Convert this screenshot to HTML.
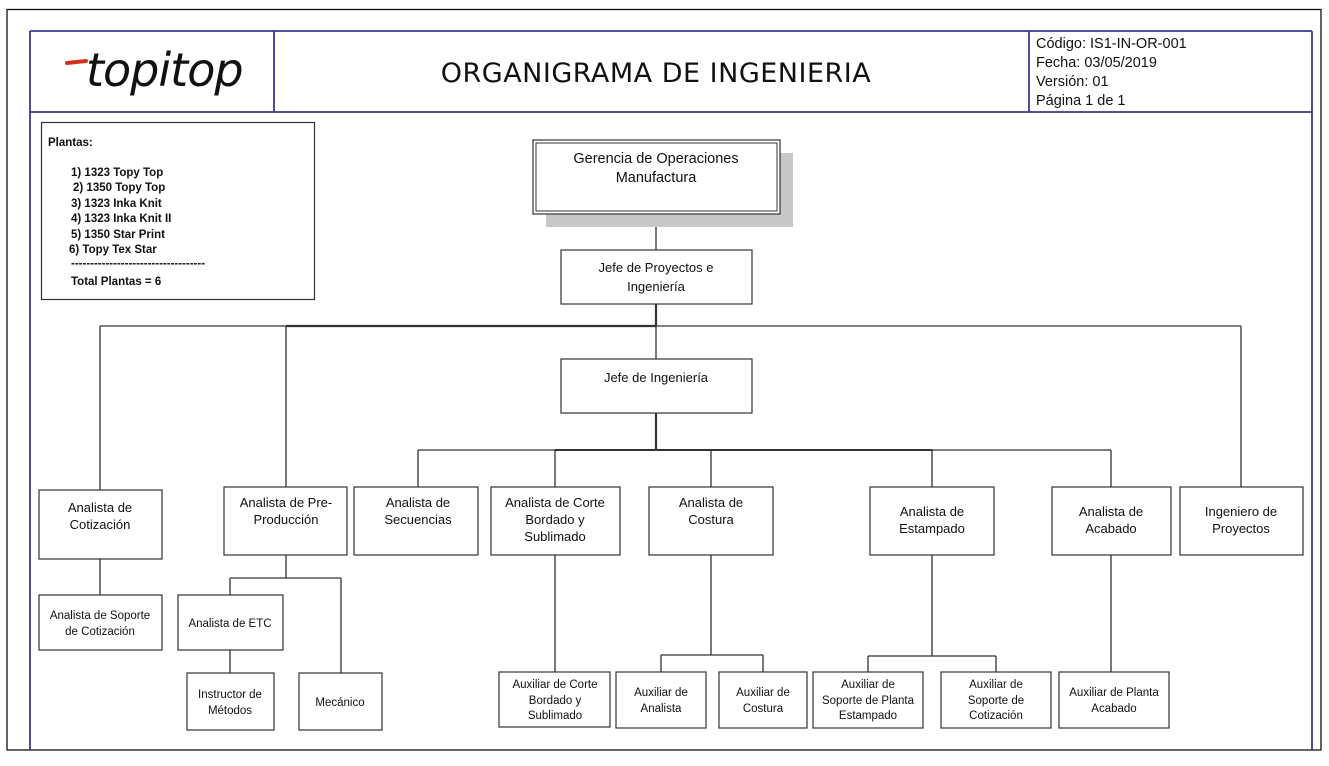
<!DOCTYPE html>
<html><head><meta charset="utf-8"><style>
html,body{margin:0;padding:0;background:#fff;width:1329px;height:766px;overflow:hidden}
svg text{font-family:"Liberation Sans",Arial,sans-serif;fill:#111}
</style></head><body>
<svg width="1329" height="766" viewBox="0 0 1329 766" xmlns="http://www.w3.org/2000/svg">
<!-- outer black frame -->
<rect x="7" y="9.5" width="1314" height="740.5" fill="none" stroke="#111" stroke-width="1.3"/>
<!-- blue frame -->
<g stroke="#3a3a8c" stroke-width="1.8" fill="none">
<line x1="30" y1="31" x2="1312" y2="31"/>
<line x1="30" y1="31" x2="30" y2="750"/>
<line x1="1312" y1="31" x2="1312" y2="750"/>
<line x1="30" y1="112" x2="1312" y2="112"/>
<line x1="274" y1="31" x2="274" y2="112"/>
<line x1="1029" y1="31" x2="1029" y2="112"/>
</g>
<!-- logo -->
<line x1="67" y1="63" x2="86" y2="61" stroke="#d0321e" stroke-width="4" stroke-linecap="round"/>
<text x="86" y="86" font-size="46" font-style="italic" style="font-family:'DejaVu Sans','Liberation Sans',sans-serif" letter-spacing="-1">topitop</text>
<text x="656" y="82" font-size="27" text-anchor="middle" style="font-family:'DejaVu Sans','Liberation Sans',sans-serif;letter-spacing:0.5px">ORGANIGRAMA DE INGENIERIA</text>
<g font-size="14.5">
<text x="1036" y="48">Código: IS1-IN-OR-001</text>
<text x="1036" y="67">Fecha: 03/05/2019</text>
<text x="1036" y="86">Versión: 01</text>
<text x="1036" y="105">Página 1 de 1</text>
</g>
<!-- plantas box -->
<rect x="41.5" y="122.5" width="273" height="177" fill="none" stroke="#333" stroke-width="1.2"/>
<g font-size="11.5" font-weight="bold">
<text x="48" y="146">Plantas:</text>
<text x="71" y="176">1) 1323 Topy Top</text>
<text x="73" y="191">2) 1350 Topy Top</text>
<text x="71" y="207">3) 1323 Inka Knit</text>
<text x="71" y="222">4) 1323 Inka Knit II</text>
<text x="71" y="238">5) 1350 Star Print</text>
<text x="69" y="253">6) Topy Tex Star</text>
<text x="71" y="267">-----------------------------------</text>
<text x="71" y="285">Total Plantas = 6</text>
</g>
<!-- connectors -->
<g stroke="#333" stroke-width="1.3" fill="none">
<line x1="656" y1="214" x2="656" y2="250"/>
<line x1="656" y1="304" x2="656" y2="359"/>
<line x1="100" y1="326" x2="1241" y2="326"/>
<line x1="286" y1="326" x2="656" y2="326" stroke-width="2.2"/>
<line x1="656" y1="304" x2="656" y2="326" stroke-width="2.2"/>
<line x1="100" y1="326" x2="100" y2="490"/>
<line x1="286" y1="326" x2="286" y2="487"/>
<line x1="1241" y1="326" x2="1241" y2="487"/>
<line x1="656" y1="413" x2="656" y2="450" stroke-width="2.2"/>
<line x1="418" y1="450" x2="1111" y2="450"/>
<line x1="555" y1="450" x2="932" y2="450" stroke-width="2"/>
<line x1="418" y1="450" x2="418" y2="487"/>
<line x1="555" y1="450" x2="555" y2="487"/>
<line x1="711" y1="450" x2="711" y2="487"/>
<line x1="932" y1="450" x2="932" y2="487"/>
<line x1="1111" y1="450" x2="1111" y2="487"/>
<line x1="100" y1="559" x2="100" y2="595"/>
<line x1="286" y1="555" x2="286" y2="578"/>
<line x1="230" y1="578" x2="341" y2="578"/>
<line x1="230" y1="578" x2="230" y2="595"/>
<line x1="341" y1="578" x2="341" y2="673"/>
<line x1="230" y1="650" x2="230" y2="673"/>
<line x1="555" y1="555" x2="555" y2="672"/>
<line x1="711" y1="555" x2="711" y2="655"/>
<line x1="661" y1="655" x2="763" y2="655"/>
<line x1="661" y1="655" x2="661" y2="672"/>
<line x1="763" y1="655" x2="763" y2="672"/>
<line x1="932" y1="555" x2="932" y2="656"/>
<line x1="868" y1="656" x2="996" y2="656"/>
<line x1="868" y1="656" x2="868" y2="672"/>
<line x1="996" y1="656" x2="996" y2="672"/>
<line x1="1111" y1="555" x2="1111" y2="672"/>
</g>
<!-- gerencia -->
<rect x="546" y="153" width="247" height="74" fill="#c8c8c8"/>
<rect x="533" y="140" width="247" height="74" fill="#fff" stroke="#333" stroke-width="1.2"/>
<rect x="536" y="143" width="241" height="68" fill="none" stroke="#333" stroke-width="1"/>
<g font-size="14.5" text-anchor="middle">
<text x="656" y="163">Gerencia de Operaciones</text>
<text x="656" y="182">Manufactura</text>
</g>
<!-- boxes -->
<g fill="#fff" stroke="#333" stroke-width="1.2">
<rect x="561" y="250" width="191" height="54"/>
<rect x="561" y="359" width="191" height="54"/>
<rect x="39" y="490" width="123" height="69"/>
<rect x="224" y="487" width="123" height="68"/>
<rect x="354" y="487" width="124" height="68"/>
<rect x="491" y="487" width="129" height="68"/>
<rect x="649" y="487" width="124" height="68"/>
<rect x="870" y="487" width="124" height="68"/>
<rect x="1052" y="487" width="119" height="68"/>
<rect x="1180" y="487" width="123" height="68"/>
<rect x="39" y="595" width="123" height="55"/>
<rect x="178" y="595" width="105" height="55"/>
<rect x="187" y="673" width="87" height="57"/>
<rect x="299" y="673" width="83" height="57"/>
<rect x="499" y="672" width="111" height="55"/>
<rect x="616" y="672" width="90" height="56"/>
<rect x="719" y="672" width="88" height="56"/>
<rect x="813" y="672" width="110" height="56"/>
<rect x="941" y="672" width="110" height="56"/>
<rect x="1059" y="672" width="110" height="56"/>
</g>
<g font-size="13" text-anchor="middle">
<text x="656" y="272">Jefe de Proyectos e</text>
<text x="656" y="291">Ingeniería</text>
<text x="656" y="382">Jefe de Ingeniería</text>
<text x="100" y="512">Analista de</text>
<text x="100" y="529">Cotización</text>
<text x="286" y="507">Analista de Pre-</text>
<text x="286" y="524">Producción</text>
<text x="418" y="507">Analista de</text>
<text x="418" y="524">Secuencias</text>
<text x="555" y="507">Analista de Corte</text>
<text x="555" y="524">Bordado y</text>
<text x="555" y="541">Sublimado</text>
<text x="711" y="507">Analista de</text>
<text x="711" y="524">Costura</text>
<text x="932" y="516">Analista de</text>
<text x="932" y="533">Estampado</text>
<text x="1111" y="516">Analista de</text>
<text x="1111" y="533">Acabado</text>
<text x="1241" y="516">Ingeniero de</text>
<text x="1241" y="533">Proyectos</text>
</g>
<g font-size="11.5" text-anchor="middle">
<text x="100" y="619">Analista de Soporte</text>
<text x="100" y="635">de Cotización</text>
<text x="230" y="627">Analista de ETC</text>
<text x="230" y="698">Instructor de</text>
<text x="230" y="714">Métodos</text>
<text x="340" y="706">Mecánico</text>
<text x="555" y="688">Auxiliar de Corte</text>
<text x="555" y="704">Bordado y</text>
<text x="555" y="719">Sublimado</text>
<text x="661" y="696">Auxiliar de</text>
<text x="661" y="712">Analista</text>
<text x="763" y="696">Auxiliar de</text>
<text x="763" y="712">Costura</text>
<text x="868" y="688">Auxiliar de</text>
<text x="868" y="704">Soporte de Planta</text>
<text x="868" y="719">Estampado</text>
<text x="996" y="688">Auxiliar de</text>
<text x="996" y="704">Soporte de</text>
<text x="996" y="719">Cotización</text>
<text x="1114" y="696">Auxiliar de Planta</text>
<text x="1114" y="712">Acabado</text>
</g>
</svg>
</body></html>
